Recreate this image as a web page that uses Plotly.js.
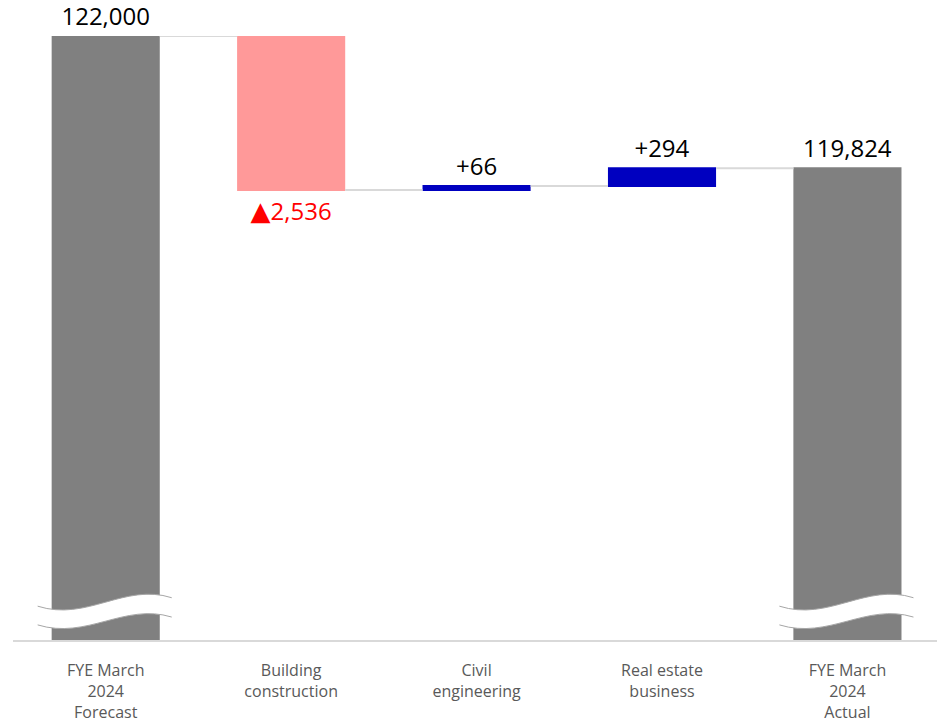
<!DOCTYPE html>
<html>
<head>
<meta charset="utf-8">
<script src="https://cdn.plot.ly/plotly-3.0.1.min.js"></script>
<style>html,body{margin:0;padding:0;background:#fff;}#chart{width:937px;height:725px;}</style>
</head>
<body>
<div id="chart"></div>
<script>
// ---- data ----
const categories = ["FYE March<br>2024<br>Forecast", "Building<br>construction", "Civil<br>engineering", "Real estate<br>business", "FYE March<br>2024<br>Actual"];
const measures = ["absolute", "relative", "relative", "relative", "total"];
const values = [122000, -2536, 66, 294, 119824];
const labelColors = ["#000000", "#ff0000", "#000000", "#000000", "#000000"];

// ---- build ----
const xIdx = categories.map((c, i) => i);
const fmt = v => Math.abs(v).toLocaleString("en-US");
const labels = values.map((v, i) => {
  if (measures[i] === "relative") return v < 0 ? "<span style=\"font-family:'DejaVu Sans';font-size:26px\">▲</span>" + fmt(v) : "+" + fmt(v);
  return fmt(v);
});
const yTop = values[0];
const yBottom = yTop - 9946; // broken axis: lower part cut away

const trace = {
  type: "waterfall",
  x: xIdx,
  y: values.map((v, i) => measures[i] === "total" ? 0 : v),
  measure: measures,
  text: labels,
  textposition: "outside",
  textfont: {family: "Open Sans, sans-serif", size: 24, color: labelColors},
  constraintext: "none",
  cliponaxis: false,
  hoverinfo: "none",
  increasing: {marker: {color: "#0000c0"}},
  decreasing: {marker: {color: "#ff9999"}},
  totals: {marker: {color: "#808080"}},
  connector: {line: {color: "#d9d9d9", width: 2}, mode: "between"}
};

// break-mark shapes on the first and last bars
function breakShapes(c) {
  const l = c - 0.367, r = c + 0.356;
  const fill = `M ${l},0.056 C ${c-0.1},0.030 ${c+0.1},0.095 ${r},0.070 L ${r},0.038 C ${c+0.1},0.062 ${c-0.1},0.000 ${l},0.025 Z`;
  const top = `M ${l},0.056 C ${c-0.1},0.030 ${c+0.1},0.095 ${r},0.070`;
  const bot = `M ${r},0.038 C ${c+0.1},0.062 ${c-0.1},0.000 ${l},0.025`;
  return [
    {type: "path", xref: "x", yref: "paper", path: fill, fillcolor: "#ffffff", line: {width: 0}, layer: "above"},
    {type: "path", xref: "x", yref: "paper", path: top, fillcolor: "rgba(0,0,0,0)", line: {color: "#a6a6a6", width: 1}, layer: "above"},
    {type: "path", xref: "x", yref: "paper", path: bot, fillcolor: "rgba(0,0,0,0)", line: {color: "#a6a6a6", width: 1}, layer: "above"}
  ];
}

const layout = {
  width: 937, height: 725,
  margin: {l: 13, r: 0, t: 36, b: 85},
  paper_bgcolor: "#ffffff", plot_bgcolor: "#ffffff",
  showlegend: false,
  waterfallgap: 0.417,
  font: {family: "Open Sans, sans-serif"},
  xaxis: {
    type: "linear",
    range: [-0.5, 4.483],
    tickvals: xIdx, ticktext: categories,
    showgrid: false, zeroline: false,
    showline: true, linecolor: "#d9d9d9", linewidth: 2,
    ticks: "", ticklabelstandoff: 15,
    tickfont: {family: "Open Sans, sans-serif", size: 16, color: "#595959"}
  },
  yaxis: {
    range: [yBottom, yTop],
    visible: false, showgrid: false, zeroline: false
  },
  shapes: [...breakShapes(xIdx[0]), ...breakShapes(xIdx[xIdx.length - 1])]
};

Plotly.newPlot("chart", [trace], layout, {staticPlot: true, displayModeBar: false});
</script>
</body>
</html>
